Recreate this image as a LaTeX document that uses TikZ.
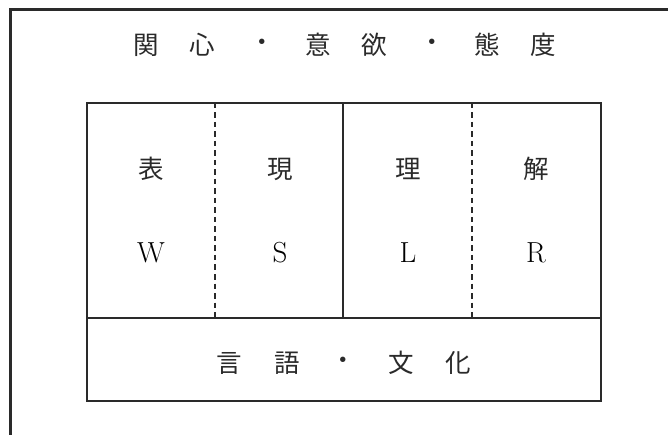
\documentclass[tikz,border=0pt]{standalone}
\usepackage{fontspec}
\newfontfamily\cjk{Noto Sans CJK JP}
\definecolor{ink}{HTML}{2A2A2A}
\begin{document}
\begin{tikzpicture}[x=1pt,y=-1pt,
  jp/.style={text=ink,font=\cjk\fontsize{25.5}{26}\selectfont,inner sep=0pt,anchor=center},
  lat/.style={text=black,font=\fontsize{29}{29}\selectfont,inner sep=0pt,anchor=center},
  frame/.style={draw=ink,line width=2.2pt},
  boxline/.style={draw=ink,line width=1.2pt},
  dashline/.style={draw=ink,line width=1.1pt,dash pattern=on 5.5pt off 4pt}]
\useasboundingbox (0,0) rectangle (668,435);
\clip (0,0) rectangle (668,435);
\fill[white] (0,0) rectangle (668,435);
% outer frame (open to right and bottom)
\draw[frame] (10.5,445) -- (10.5,9.5) -- (680,9.5);
% inner box
\draw[boxline] (87,103) rectangle (601,401);
\draw[boxline] (87,318) -- (601,318);
\draw[boxline] (343,103) -- (343,318);
\draw[dashline] (215,103) -- (215,318);
\draw[dashline] (472,103) -- (472,318);
% title
\node[jp] (t1) at (146,45) {関};
\node[jp] (t2) at (202,45) {心};
\node[jp] (t3) at (262,45) {・};
\node[jp] (t4) at (318,45) {意};
\node[jp] (t5) at (374,45) {欲};
\node[jp] (t6) at (432,45) {・};
\node[jp] (t7) at (487,45) {態};
\node[jp] (t8) at (543,45) {度};
% cells
\node[jp] (c1) at (151,169) {表};
\node[jp] (c2) at (280,169) {現};
\node[jp] (c3) at (408,169) {理};
\node[jp] (c4) at (536,169) {解};
\node[lat] (w) at (151,253) {W};
\node[lat] (s) at (280,253) {S};
\node[lat] (l) at (408,253) {L};
\node[lat] (r) at (536,253) {R};
% bottom
\node[jp] (b1) at (229,363) {言};
\node[jp] (b2) at (287,363) {語};
\node[jp] (b3) at (343,363) {・};
\node[jp] (b4) at (401,363) {文};
\node[jp] (b5) at (458,363) {化};
\end{tikzpicture}
\end{document}
